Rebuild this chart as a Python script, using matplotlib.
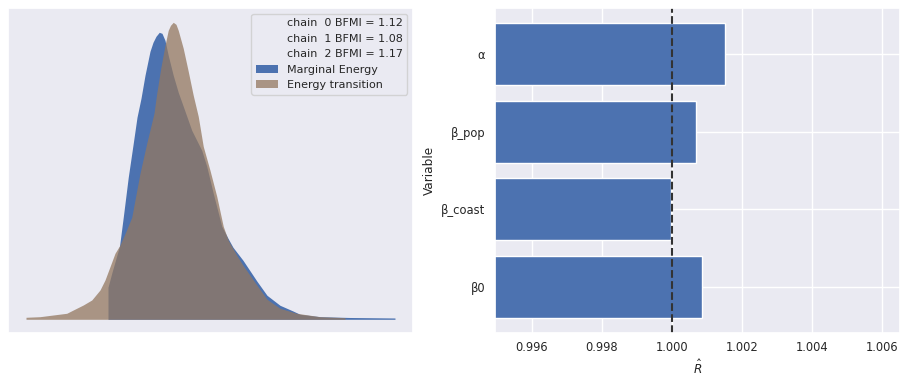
import numpy as np
import matplotlib
matplotlib.use("Agg")
import matplotlib.pyplot as plt
import seaborn as sns

# energy densities (centered energy, density)
marginal_x = [-2.28, -2.28, -2.12, -1.96, -1.82, -1.67, -1.47, -1.27, -1.12, -0.96,
              -0.80, -0.60, -0.48, -0.36, -0.23, -0.12, 0.00, 0.13, 0.33, 0.53,
              0.73, 1.07, 1.47, 1.67, 1.93, 2.27, 2.52, 2.72, 3.12, 3.68,
              4.08, 4.60, 5.12, 5.40, 6.20, 7.40, 9.20, 9.20]
marginal_y = [0.0, 0.032, 0.047, 0.061, 0.073, 0.102, 0.142, 0.176, 0.202, 0.221,
              0.244, 0.268, 0.277, 0.283, 0.287, 0.286, 0.279, 0.264, 0.244, 0.227,
              0.213, 0.189, 0.169, 0.153, 0.126, 0.093, 0.081, 0.072, 0.059, 0.038,
              0.024, 0.014, 0.0083, 0.005, 0.0026, 0.0018, 0.0013, 0.0]

transition_x = [-5.56, -5.56, -5.00, -4.47, -3.93, -3.67, -3.27, -2.93, -2.60, -2.40,
                -2.20, -2.00, -1.80, -1.56, -1.33, -1.00, -0.73, -0.44, -0.33, -0.17,
                0.00, 0.13, 0.22, 0.33, 0.44, 0.53, 0.73, 0.93, 1.13, 1.33,
                1.53, 1.80, 2.07, 2.33, 2.53, 2.87, 3.12, 3.68, 4.08, 4.60,
                5.27, 6.20, 7.20, 7.20]
transition_y = [0.0, 0.002, 0.0026, 0.0043, 0.006, 0.0093, 0.0143, 0.0193, 0.0293, 0.0393,
                0.0526, 0.066, 0.0743, 0.088, 0.102, 0.146, 0.176, 0.206, 0.226, 0.251,
                0.274, 0.289, 0.294, 0.297, 0.295, 0.289, 0.271, 0.248, 0.224, 0.203,
                0.173, 0.149, 0.123, 0.093, 0.079, 0.064, 0.054, 0.034, 0.020, 0.011,
                0.006, 0.0026, 0.0016, 0.0]

bfmi = [1.12, 1.08, 1.17]

variables = ["α", "β_pop", "β_coast", "β0"]
rhat = [1.00152, 1.00067, 0.99998, 1.00086]

sns.set_theme(style="darkgrid")
fs = 8.3

fig = plt.figure(figsize=(9.07, 3.82), dpi=100)
ax1 = fig.add_axes([0.00882, 0.1283, 0.4465, 0.8507])
ax2 = fig.add_axes([0.5458, 0.1283, 0.4465, 0.8507])

# left: energy plot
ax1.fill_between(marginal_x, marginal_y, color="#4C72B0", alpha=1.0, lw=0,
                 label="Marginal Energy")
ax1.fill_between(transition_x, transition_y, color="#937860", alpha=0.75, lw=0,
                 label="Energy transition")
handles, labels = ax1.get_legend_handles_labels()
chain_handles = []
for i, v in enumerate(bfmi):
    h, = ax1.plot([], alpha=0, label=f"chain {i:>2} BFMI = {v:.2f}")
    chain_handles.append(h)
ax1.legend(chain_handles + handles,
           [h.get_label() for h in chain_handles] + labels,
           loc="upper right", fontsize=8.0)
ax1.set_xticks([])
ax1.set_yticks([])
ax1.set_xlim(-6.28, 9.92)
ax1.set_ylim(-0.0137, 0.3113)

# right: r-hat bars
ypos = np.arange(len(variables))[::-1]
ax2.barh(ypos, rhat, color="#4C72B0", edgecolor="white")
ax2.axvline(1.0, color="0.2", ls="--", lw=1.5)
ax2.set_yticks(ypos)
ax2.set_yticklabels(variables)
ax2.set_xlim(0.99495, 1.0065)
ax2.set_xticks([0.996, 0.998, 1.000, 1.002, 1.004, 1.006])
ax2.set_xticklabels(["0.996", "0.998", "1.000", "1.002", "1.004", "1.006"])
ax2.tick_params(axis="both", labelsize=fs, length=0)
ax2.tick_params(axis="y", pad=7)
ax2.tick_params(axis="x", pad=5.5)
ax2.set_xlabel(r"$\hat{R}$", fontsize=fs * 1.05)
ax2.set_ylabel("Variable", fontsize=fs * 1.05)

fig.savefig("out.png", dpi=100)
